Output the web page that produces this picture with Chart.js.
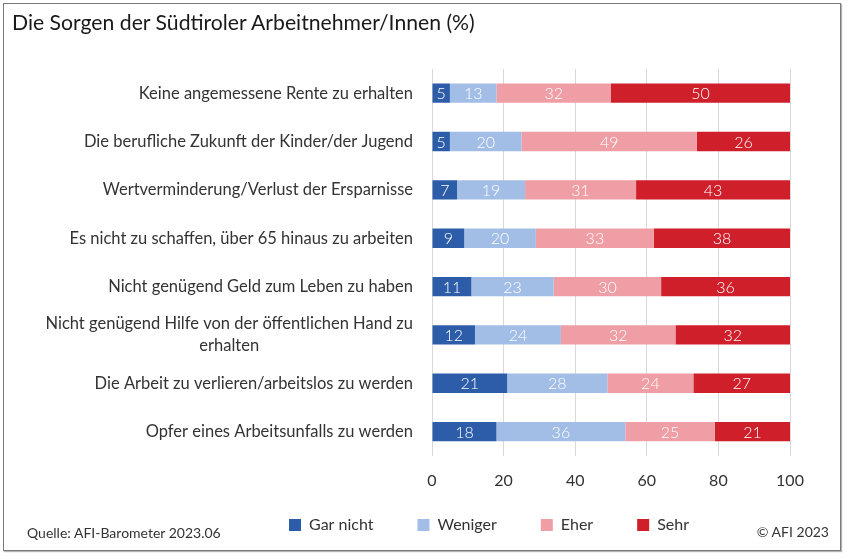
<!DOCTYPE html>
<html>
<head>
<meta charset="utf-8">
<script src="https://cdn.jsdelivr.net/npm/chart.js@4/dist/chart.umd.min.js"></script>
<style>
  html, body { margin: 0; padding: 0; background: #fff; }
  #wrap { position: relative; width: 848px; height: 559px; overflow: hidden; background: #fff; }
  #frame { position: absolute; left: 3px; top: 3px; width: 836px; height: 546px; border: 1px solid #7a7a7a; box-shadow: 1px 1px 1px #b5b5b5; }
  #title { position: absolute; left: 12px; top: 9px; font-family: Lato, sans-serif; font-size: 21.2px; color: #1a1a1a; white-space: nowrap; }
  #source { position: absolute; left: 27px; top: 524px; font-family: Lato, sans-serif; font-size: 14px; color: #333; white-space: nowrap; }
  #copy { position: absolute; right: 19px; top: 523px; font-family: Lato, sans-serif; font-size: 14px; color: #333; white-space: nowrap; }
  #cv { position: absolute; left: 0; top: 0; }
</style>
</head>
<body>
<div id="wrap">
  <canvas id="cv" width="848" height="559"></canvas>
  <div id="frame"></div>
  <div id="title">Die Sorgen der Südtiroler Arbeitnehmer/Innen (%)</div>
  <div id="source">Quelle: AFI-Barometer 2023.06</div>
  <div id="copy">© AFI 2023</div>
</div>
<script>
const categories = [
  'Keine angemessene Rente zu erhalten',
  'Die berufliche Zukunft der Kinder/der Jugend',
  'Wertverminderung/Verlust der Ersparnisse',
  'Es nicht zu schaffen, über 65 hinaus zu arbeiten',
  'Nicht genügend Geld zum Leben zu haben',
  ['Nicht genügend Hilfe von der öffentlichen Hand zu', 'erhalten'],
  'Die Arbeit zu verlieren/arbeitslos zu werden',
  'Opfer eines Arbeitsunfalls zu werden'
];
const seriesNames = ['Gar nicht', 'Weniger', 'Eher', 'Sehr'];
const garNicht = [5, 5, 7, 9, 11, 12, 21, 18];
const weniger  = [13, 20, 19, 20, 23, 24, 28, 36];
const eher     = [32, 49, 31, 33, 30, 32, 24, 25];
const sehr     = [50, 26, 43, 38, 36, 32, 27, 21];
const xTicks   = [0, 20, 40, 60, 80, 100];

const colors = ['#2D5DA8', '#A2BDE6', '#F09EA5', '#CE1F2B'];
const FONT = 'Lato, sans-serif';
const LEGEND_PAD = 44;

const yLabelPlugin = {
  id: 'yLabels',
  afterDraw(chart) {
    const ctx = chart.ctx;
    const ys = chart.scales.y;
    const rightX = 413;
    ctx.save();
    ctx.font = '16.5px ' + FONT;
    ctx.fillStyle = '#333333';
    ctx.textBaseline = 'middle';
    categories.forEach((lab, i) => {
      const yc = ys.getPixelForValue(i);
      const lines = Array.isArray(lab) ? lab : [lab];
      const lh = 22;
      if (lines.length === 1) {
        ctx.textAlign = 'right';
        ctx.fillText(lines[0], rightX, yc);
      } else {
        const maxW = Math.max(...lines.map(l => ctx.measureText(l).width));
        ctx.textAlign = 'center';
        const cx = rightX - maxW / 2;
        lines.forEach((l, k) => {
          ctx.fillText(l, cx, yc + (k - (lines.length - 1) / 2) * lh);
        });
      }
    });
    ctx.restore();
  }
};

const valueLabelPlugin = {
  id: 'valueLabels',
  afterDatasetsDraw(chart) {
    const ctx = chart.ctx;
    ctx.save();
    ctx.font = '300 16px ' + FONT;
    ctx.fillStyle = '#ffffff';
    ctx.textAlign = 'center';
    ctx.textBaseline = 'middle';
    chart.data.datasets.forEach((ds, di) => {
      const meta = chart.getDatasetMeta(di);
      meta.data.forEach((el, i) => {
        const v = ds.data[i];
        const cx = (el.x + el.base) / 2;
        ctx.fillText(String(v), cx, el.y + 1);
      });
    });
    ctx.restore();
  }
};

// place the legend row so its items sit on the same line as the source note
const legendPlacePlugin = {
  id: 'legendPlace',
  afterLayout(chart) {
    const lg = chart.legend;
    if (!lg) return;
    lg.top = 525 - LEGEND_PAD - 8;
    lg.height = LEGEND_PAD + 30;
    lg.bottom = lg.top + lg.height;
  }
};

const dataSeries = [garNicht, weniger, eher, sehr];

new Chart(document.getElementById('cv'), {
  type: 'bar',
  data: {
    labels: categories,
    datasets: dataSeries.map((d, i) => ({
      label: seriesNames[i],
      data: d,
      backgroundColor: colors[i],
      borderWidth: 0,
      barPercentage: 0.4,
      categoryPercentage: 1.0
    }))
  },
  options: {
    indexAxis: 'y',
    responsive: false,
    animation: false,
    layout: { padding: { left: 188, right: 58, top: 69, bottom: 34 } },
    scales: {
      x: {
        stacked: true,
        min: 0,
        max: 100,
        afterBuildTicks(scale) { scale.ticks = xTicks.map(v => ({ value: v })); },
        grid: { color: '#d9d9d9', lineWidth: 1, drawTicks: false },
        border: { display: false },
        ticks: { color: '#333333', font: { family: FONT, size: 16 }, padding: 15 }
      },
      y: {
        stacked: true,
        grid: { display: false },
        border: { display: false },
        ticks: { display: false },
        afterFit(scale) { scale.width = 432 - 188; }
      }
    },
    plugins: {
      legend: {
        position: 'bottom',
        maxHeight: 20,
        labels: {
          boxWidth: 12,
          boxHeight: 12,
          padding: LEGEND_PAD,
          color: '#333333',
          font: { family: FONT, size: 16 }
        }
      },
      tooltip: { enabled: false },
      title: { display: false }
    }
  },
  plugins: [legendPlacePlugin, yLabelPlugin, valueLabelPlugin]
});
</script>
</body>
</html>
